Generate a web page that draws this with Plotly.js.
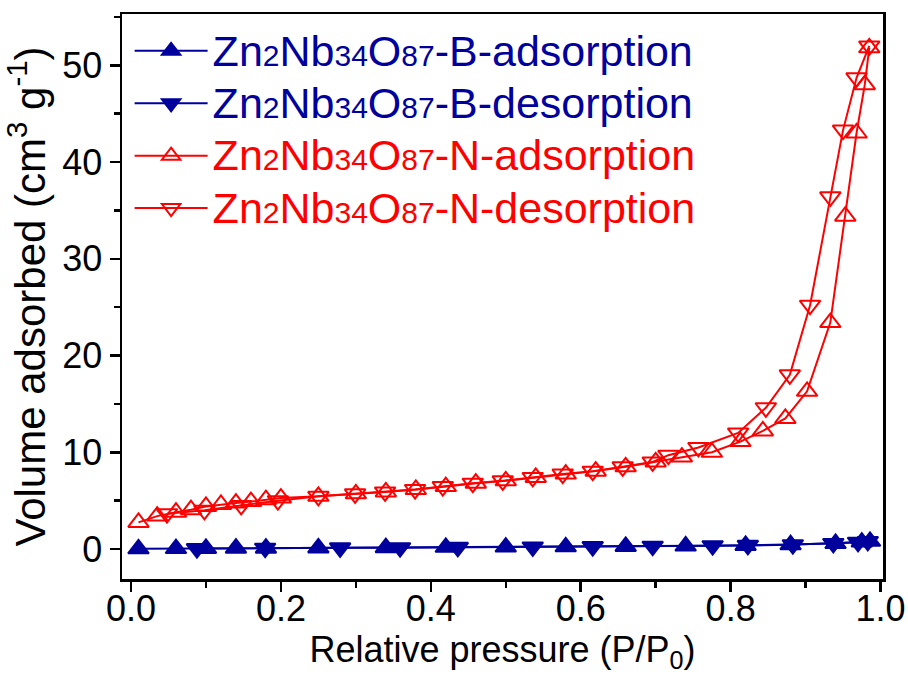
<!DOCTYPE html>
<html>
<head>
<meta charset="utf-8">
<script src="https://cdn.plot.ly/plotly-3.0.1.min.js"></script>
<style>html,body{margin:0;padding:0;background:#fff;}#chart{width:908px;height:675px;}</style>
</head>
<body>
<div id="chart"></div>
<script>
// Zn2Nb34O87-B (blue, filled)
const bAdsP = [0.01,0.06,0.10,0.14,0.18,0.25,0.34,0.42,0.50,0.58,0.66,0.74,0.82,0.88,0.94,0.975,0.986];
const bAdsV = [0.02,0.04,0.06,0.08,0.09,0.11,0.14,0.17,0.20,0.23,0.27,0.31,0.37,0.44,0.57,0.72,0.80];
const bDesP = [0.983,0.970,0.937,0.883,0.823,0.776,0.696,0.616,0.536,0.436,0.359,0.279,0.179,0.088];
const bDesV = [0.78,0.70,0.58,0.45,0.38,0.34,0.29,0.25,0.21,0.17,0.14,0.12,0.09,0.05];
// Zn2Nb34O87-N (red, open)
const nAdsP = [0.01,0.035,0.06,0.08,0.10,0.12,0.14,0.16,0.18,0.20,0.25,0.30,0.34,0.38,0.42,0.46,0.50,0.54,0.58,0.62,0.66,0.70,0.735,0.775,0.813,0.843,0.873,0.902,0.933,0.953,0.968,0.979,0.985];
const nAdsV = [2.75,3.4,3.8,4.06,4.4,4.6,4.75,4.9,5.1,5.27,5.45,5.7,5.9,6.15,6.45,6.8,7.05,7.4,7.75,8.05,8.5,9.0,9.5,10.0,11.1,12.2,13.5,16.3,23.4,34.4,43.0,48.0,51.8];
const nDesP = [0.985,0.968,0.950,0.933,0.906,0.879,0.847,0.81,0.757,0.717,0.696,0.656,0.616,0.576,0.536,0.496,0.456,0.416,0.379,0.339,0.299,0.25,0.196,0.147,0.098,0.048];
const nDesV = [52.0,48.7,43.3,36.4,25.2,18.0,14.6,12.0,10.5,9.7,9.0,8.5,8.05,7.75,7.4,7.05,6.8,6.45,6.15,5.9,5.7,5.45,5.0,4.5,4.0,3.65];

const xTickVals = [0,0.2,0.4,0.6,0.8,1.0];
const yTickVals = [0,10,20,30,40,50];

const BLUE = '#00009C';
const RED = '#FF0000';
const SUB = (s) => '<span style="font-size:30px">' + s + '</span>';
const formula = 'Zn' + SUB('2') + 'Nb' + SUB('34') + 'O' + SUB('87');
const nm = (txt, c) => '<span style="color:' + c + ';font-size:43px">' + formula + txt + '</span>';

const MS = 18;
const traces = [
  {x:bAdsP, y:bAdsV, name:nm('-B-adsorption',BLUE), mode:'lines+markers',
   line:{color:BLUE,width:2}, marker:{symbol:'triangle-up',size:MS,color:BLUE,line:{color:BLUE,width:2}}},
  {x:bDesP, y:bDesV, name:nm('-B-desorption',BLUE), mode:'lines+markers',
   line:{color:BLUE,width:2}, marker:{symbol:'triangle-down',size:MS,color:BLUE,line:{color:BLUE,width:2}}},
  {x:nAdsP, y:nAdsV, name:nm('-N-adsorption',RED), mode:'lines+markers',
   line:{color:RED,width:2}, marker:{symbol:'triangle-up-open',size:MS,color:RED,line:{color:RED,width:2}}},
  {x:nDesP, y:nDesV, name:nm('-N-desorption',RED), mode:'lines+markers',
   line:{color:RED,width:2}, marker:{symbol:'triangle-down-open',size:MS,color:RED,line:{color:RED,width:2}}}
];

const FONT = 'Arial, "Liberation Sans", sans-serif';
const layout = {
  width:908, height:675,
  margin:{l:122, r:25, t:14, b:96},
  paper_bgcolor:'#fff', plot_bgcolor:'#fff',
  font:{family:FONT, color:'#000', size:36},
  showlegend:true,
  legend:{x:0.01, y:0.99, xanchor:'left', yanchor:'top', bgcolor:'rgba(0,0,0,0)',
          font:{family:FONT, size:38, color:'#000'}, itemwidth:73, tracegroupgap:0},
  xaxis:{range:[-0.012,1.0033], showgrid:false, zeroline:false,
         showline:true, linecolor:'#000', linewidth:2.5, mirror:true,
         ticks:'outside', ticklen:10, tickwidth:2.5, tickcolor:'#000',
         tickvals:xTickVals, tickformat:'.1f', tickfont:{size:36, family:FONT},
         ticklabelstandoff:-14,
         minor:{dtick:0.1, ticks:'outside', ticklen:6, tickwidth:2.5, tickcolor:'#000'},
         title:{text:'Relative pressure (P/P<sub>0</sub>)', font:{size:36, family:FONT}, standoff:0}},
  yaxis:{range:[-3.1,55.3], showgrid:false, zeroline:false,
         showline:true, linecolor:'#000', linewidth:2.5, mirror:true,
         ticks:'outside', ticklen:10, tickwidth:2.5, tickcolor:'#000',
         tickvals:yTickVals, tickfont:{size:36, family:FONT},
         minor:{dtick:5, ticks:'outside', ticklen:6, tickwidth:2.5, tickcolor:'#000'},
         title:{text:'Volume adsorbed (cm<sup>3</sup> g<sup>-1</sup>)', font:{size:42, family:FONT}, standoff:4}}
};

Plotly.newPlot('chart', traces, layout, {displayModeBar:false, staticPlot:true});
</script>
</body>
</html>
